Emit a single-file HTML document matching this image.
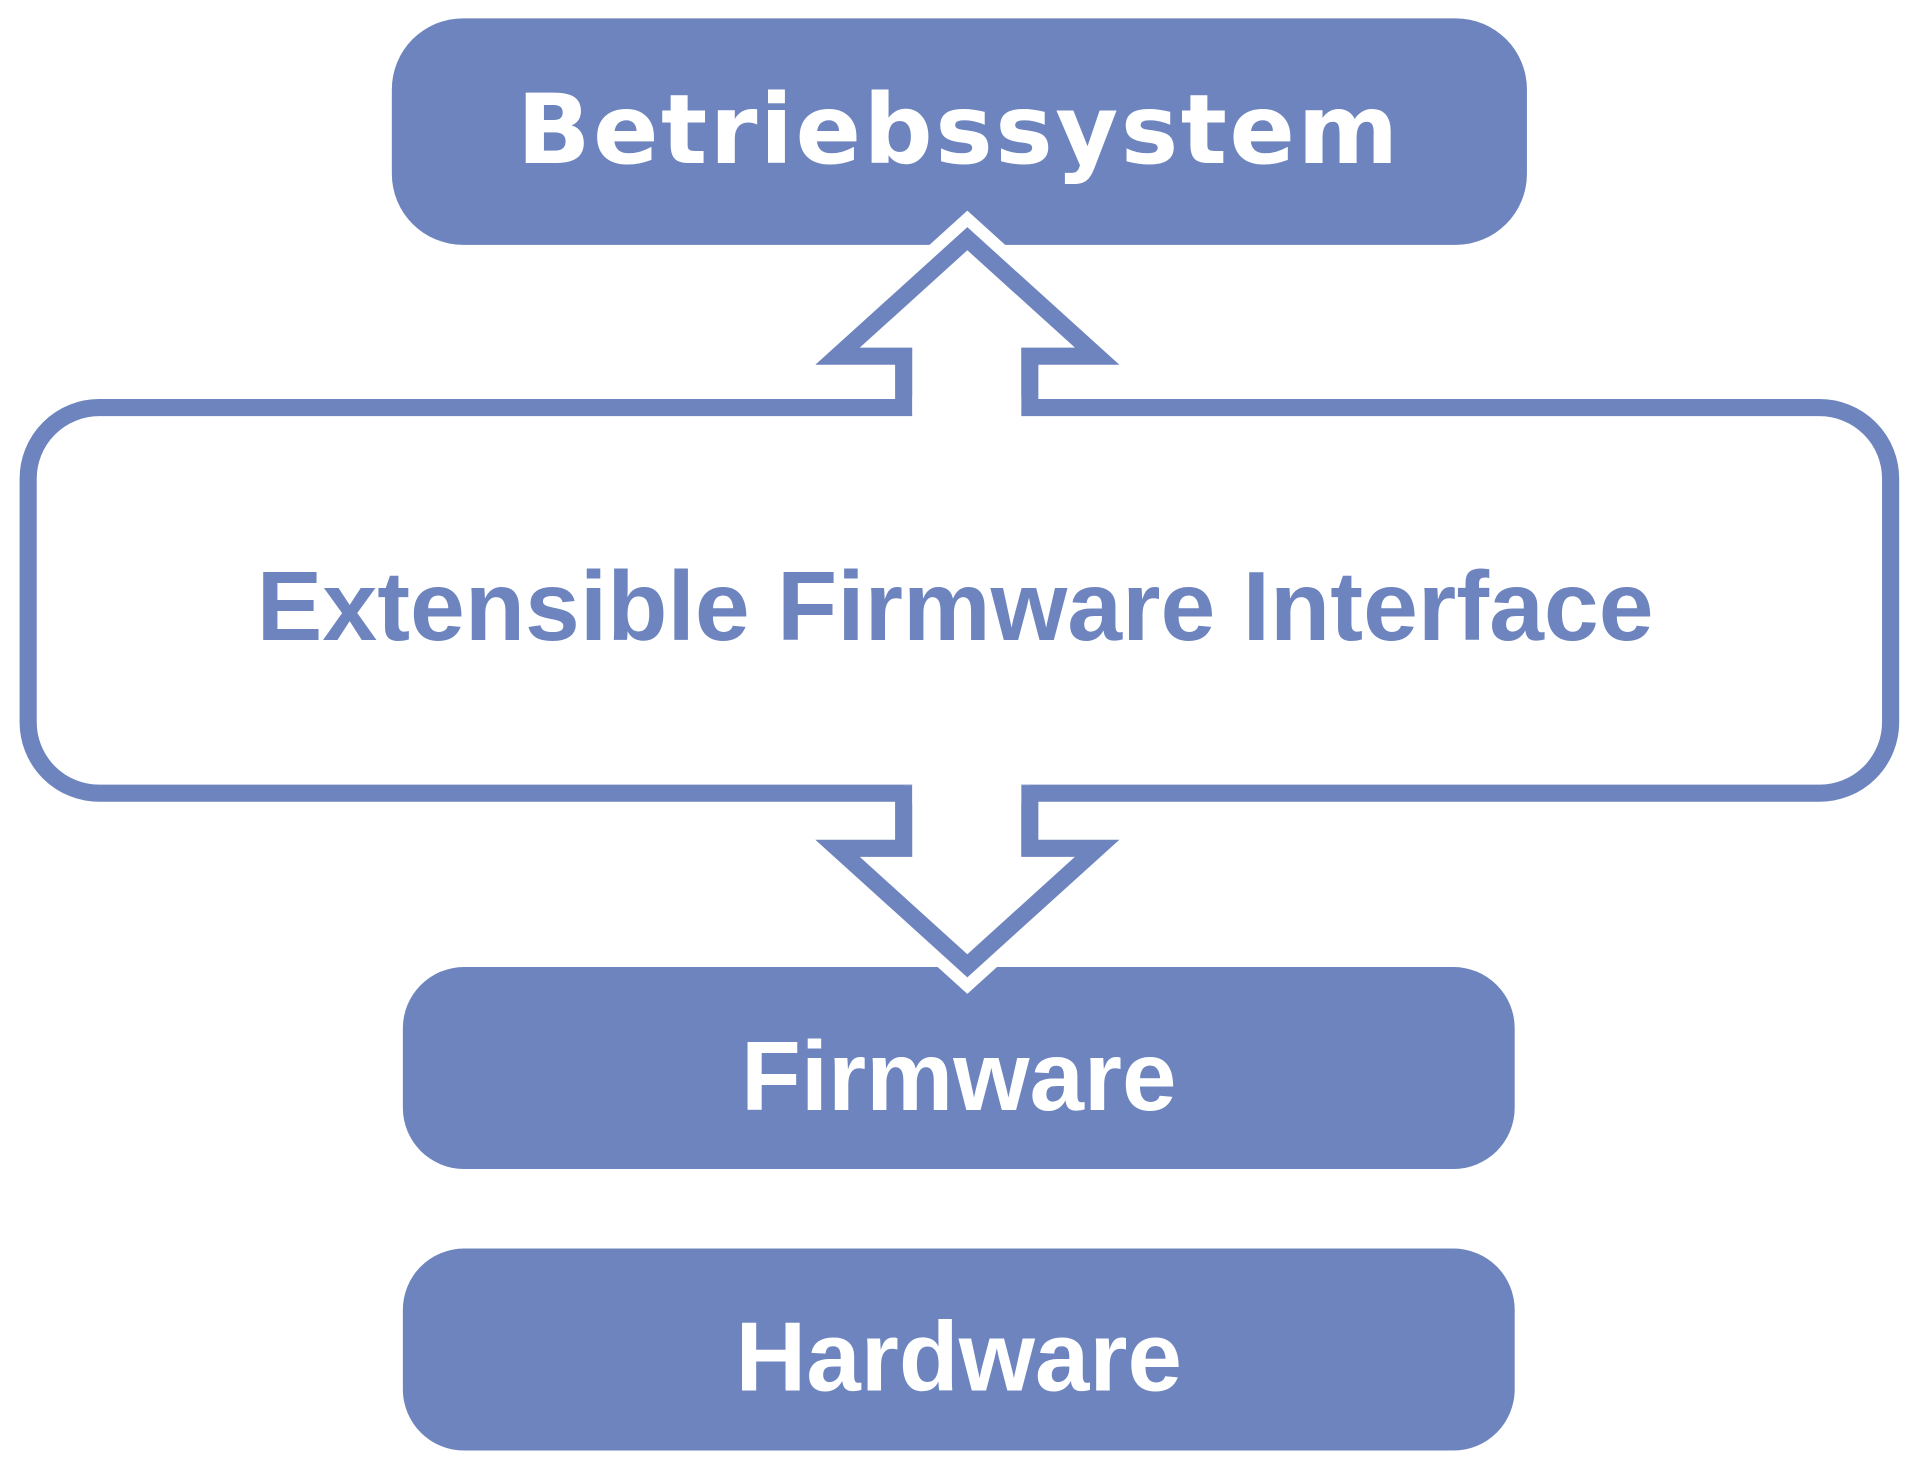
<!DOCTYPE html>
<html><head><meta charset="utf-8"><style>html,body{margin:0;padding:0;background:#fff}svg{display:block}</style></head>
<body>
<svg width="1920" height="1464" viewBox="0 0 1568 1196" preserveAspectRatio="none" xmlns="http://www.w3.org/2000/svg">
<rect x="0" y="0" width="1568" height="1196" fill="#fff"/>
<rect x="320" y="15" width="927" height="185" rx="58" fill="#6d84be"/>
<text x="783" y="133" text-anchor="middle" font-family="DejaVu Sans, sans-serif" font-weight="bold" font-size="79" fill="#fff" letter-spacing="2">Betriebssystem</text>
<rect x="329" y="790" width="908" height="165" rx="50" fill="#6d84be"/>
<rect x="329" y="1020" width="908" height="165" rx="50" fill="#6d84be"/>
<text x="783" y="907" text-anchor="middle" font-family="Liberation Sans, sans-serif" font-weight="bold" font-size="80" fill="#fff">Firmware</text>
<text x="783" y="1136" text-anchor="middle" font-family="Liberation Sans, sans-serif" font-weight="bold" font-size="80" fill="#fff">Hardware</text>
<path d="M738,333 V291 H684 L790,195 L896,291 H841 V333" fill="none" stroke="#fff" stroke-width="34"/>
<path d="M738,648 V693 H684 L790,789 L896,693 H841 V648" fill="none" stroke="#fff" stroke-width="34"/>
<rect x="23" y="333" width="1521" height="315" rx="58" fill="#fff" stroke="#6d84be" stroke-width="14"/>
<path d="M738,339 V291 H684 L790,195 L896,291 H841 V339" fill="#fff" stroke="#6d84be" stroke-width="14"/>
<path d="M738,642 V693 H684 L790,789 L896,693 H841 V642" fill="#fff" stroke="#6d84be" stroke-width="14"/>
<rect x="745" y="324" width="89" height="18" fill="#fff"/>
<rect x="745" y="639" width="89" height="18" fill="#fff"/>
<text x="780" y="523" text-anchor="middle" font-family="Liberation Sans, sans-serif" font-weight="bold" font-size="80.5" fill="#6d84be">Extensible Firmware Interface</text>
</svg>
</body></html>
